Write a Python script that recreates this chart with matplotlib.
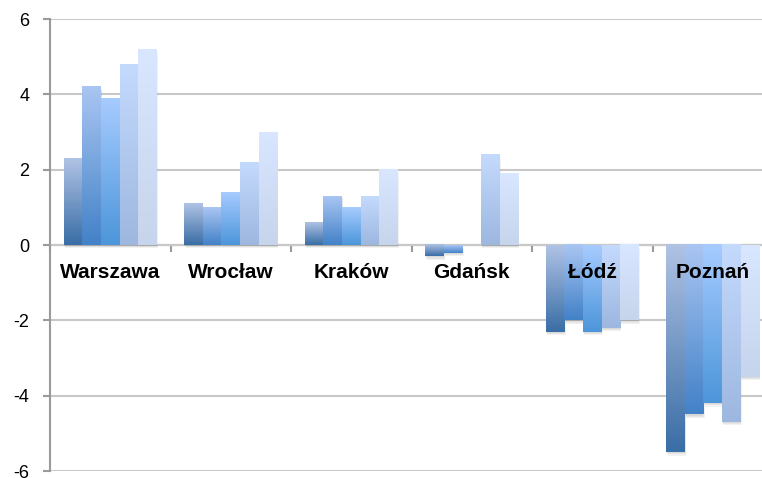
import numpy as np
import matplotlib
matplotlib.use("Agg")
import matplotlib.pyplot as plt
from matplotlib.colors import LinearSegmentedColormap
from matplotlib.patches import Rectangle

cities = ["Warszawa", "Wrocław", "Kraków", "Gdańsk", "Łódź", "Poznań"]
s1 = [2.3, 1.1, 0.6, -0.3, -2.3, -5.5]
s2 = [4.2, 1.0, 1.3, -0.2, -2.0, -4.5]
s3 = [3.9, 1.4, 1.0, 0.0, -2.3, -4.2]
s4 = [4.8, 2.2, 1.3, 2.4, -2.2, -4.7]
s5 = [5.2, 3.0, 2.0, 1.9, -2.0, -3.5]
series = [s1, s2, s3, s4, s5]

# (top colour, bottom colour) for each series
grads = [("#afc2e4", "#3a6ea6"),
         ("#a9c5f2", "#4382c8"),
         ("#a6cbff", "#4d96da"),
         ("#c4dafd", "#9db7df"),
         ("#d8e7ff", "#c6d5ec")]

plt.rcParams["font.family"] = ["Liberation Sans", "DejaVu Sans"]

fig = plt.figure(figsize=(7.62, 4.78), dpi=100)
ax = fig.add_axes([50 / 762, 7 / 478, 723 / 762, 452 / 478])

x = np.arange(len(cities))
bw = 1 / 6.5
offsets = (np.arange(5) - 2) * bw

for i, vals in enumerate(series):
    bars = ax.bar(x + offsets[i], vals, bw, color="none", zorder=3)
    cmap = LinearSegmentedColormap.from_list("g%d" % i, [grads[i][1], grads[i][0]])
    grad = np.linspace(1, 0, 64).reshape(-1, 1)
    for b in bars:
        h = b.get_height()
        if h == 0:
            continue
        x0 = b.get_x()
        lo, hi = min(0, h), max(0, h)
        # soft shadow under the bar, a few faint layers
        for k, d in enumerate([0.03, 0.06, 0.09]):
            ax.add_patch(Rectangle((x0 + 0.005 * k, lo - d), bw, hi - lo,
                                   color="#000000", alpha=0.05, lw=0, zorder=2))
        ax.imshow(grad, cmap=cmap, extent=(x0, x0 + bw, lo, hi),
                  aspect="auto", zorder=4, interpolation="bilinear")

ax.set_xlim(-0.5, 5.5)
ax.set_ylim(-6, 6)
ax.set_yticks(np.arange(-6, 7, 2))
ax.set_yticklabels([str(v) for v in range(-6, 7, 2)], fontsize=13)
ax.grid(axis="y", color="#c8c8c8", lw=1.5, zorder=0)

ax.spines["top"].set_visible(False)
ax.spines["right"].set_visible(False)
ax.spines["left"].set_color("#9a9a9a")
ax.spines["left"].set_linewidth(1.5)
ax.spines["bottom"].set_position(("data", 0))
ax.spines["bottom"].set_color("#9a9a9a")
ax.spines["bottom"].set_linewidth(1.5)
ax.spines["bottom"].set_zorder(1)

ax.set_xticks(np.arange(-0.5, 6, 1))
ax.set_xticklabels([])
ax.tick_params(axis="x", direction="out", length=5, width=1.5, color="#9a9a9a")
ax.tick_params(axis="y", direction="out", length=5, width=1.5, color="#9a9a9a",
               pad=10)

for xi, name in zip(x, cities):
    ax.text(xi, -0.74, name, ha="center", va="center", fontsize=15,
            fontweight="bold", zorder=6)

fig.savefig("out.png", dpi=100)
